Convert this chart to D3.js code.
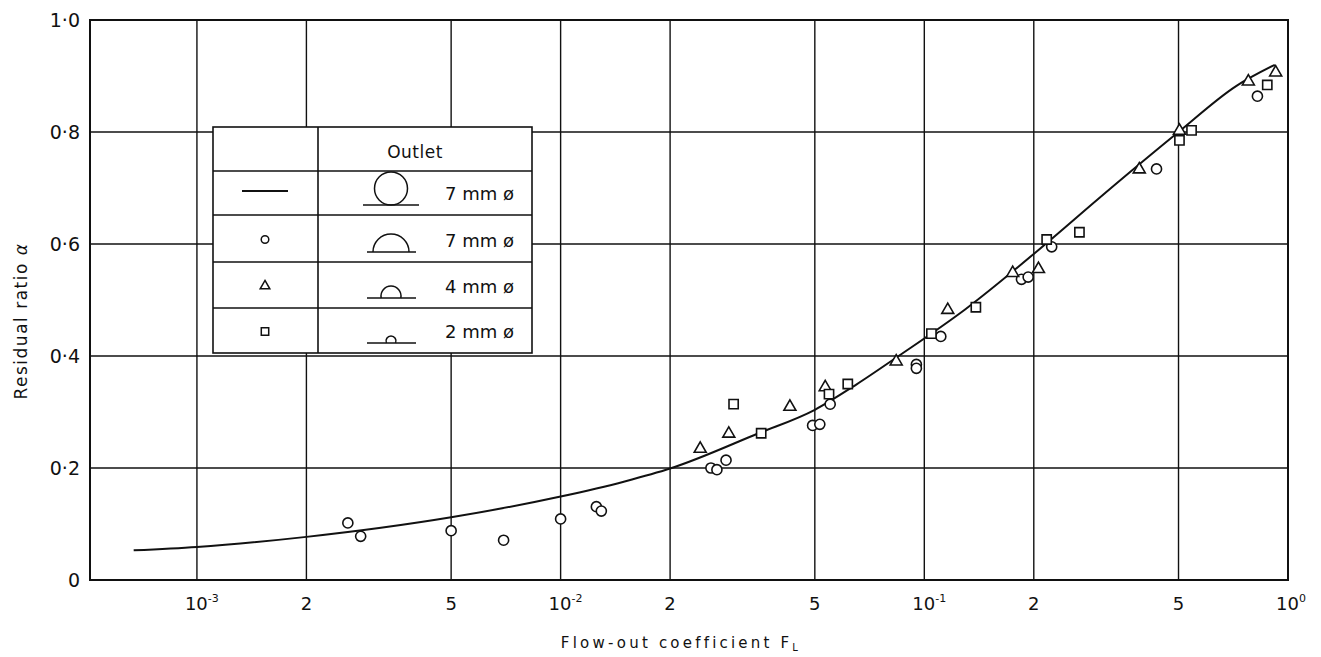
<!DOCTYPE html>
<html>
<head>
<meta charset="utf-8">
<script src="https://cdn.jsdelivr.net/npm/d3@7"></script>
<style>
  body { margin: 0; background: #fff; }
  svg { display: block; }
  text { font-family: "DejaVu Sans", sans-serif; fill: #111; }
</style>
</head>
<body>
<div id="vis"></div>
<script>
// ---- data ----
const xTicks = [0.001, 0.002, 0.005, 0.01, 0.02, 0.05, 0.1, 0.2, 0.5, 1];
const xTickBase = ["10", "2", "5", "10", "2", "5", "10", "2", "5", "10"];
const xTickExp = ["-3", "", "", "-2", "", "", "-1", "", "", "0"];
const yTicks = [0, 0.2, 0.4, 0.6, 0.8, 1.0];
const yTickLabels = ["0", "0·2", "0·4", "0·6", "0·8", "1·0"];

// fitted curve (7 mm full-circle outlet)
const curveF = [0.00067, 0.001, 0.002, 0.005, 0.01, 0.015, 0.02, 0.035, 0.05, 0.065, 0.085, 0.13, 0.22, 0.3, 0.5, 0.72, 0.92];
const curveA = [0.053, 0.059, 0.077, 0.112, 0.149, 0.176, 0.199, 0.262, 0.304, 0.349, 0.4, 0.484, 0.605, 0.68, 0.8, 0.882, 0.92];

// circles: 7 mm half outlet
const circleF = [0.0026, 0.00282, 0.005, 0.00697, 0.01, 0.01254, 0.01294, 0.0259, 0.0269, 0.0285, 0.0493, 0.0516, 0.0551, 0.0951, 0.0951, 0.111, 0.185, 0.193, 0.224, 0.435, 0.824];
const circleA = [0.102, 0.078, 0.088, 0.071, 0.109, 0.131, 0.123, 0.2, 0.197, 0.214, 0.276, 0.278, 0.314, 0.385, 0.378, 0.435, 0.537, 0.541, 0.595, 0.734, 0.864];

// triangles: 4 mm
const triF = [0.0242, 0.029, 0.0427, 0.0534, 0.0837, 0.116, 0.175, 0.206, 0.39, 0.503, 0.778, 0.925];
const triA = [0.236, 0.263, 0.311, 0.346, 0.392, 0.484, 0.55, 0.557, 0.735, 0.804, 0.892, 0.908];

// squares: 2 mm
const sqF = [0.0299, 0.0356, 0.0547, 0.0616, 0.1046, 0.1386, 0.217, 0.267, 0.503, 0.543, 0.877];
const sqA = [0.314, 0.262, 0.332, 0.35, 0.44, 0.487, 0.608, 0.621, 0.785, 0.803, 0.884];

// legend
const legendHeader = "Outlet";
const legendSymbols = ["line", "circle", "triangle", "square"];
const legendOutletR = [16.5, 18, 10, 5];      // outlet sketch radius
const legendOutletH = [33, 18, 12, 7];        // height above base line
const legendLabels = ["7 mm ø", "7 mm ø", "4 mm ø", "2 mm ø"];

// ---- layout ----
const width = 1321, height = 657;
const pLeft = 90, pRight = 1288, pTop = 20, pBottom = 580;

const svg = d3.select("#vis").append("svg")
  .attr("width", width)
  .attr("height", height);

svg.append("rect").attr("width", width).attr("height", height).attr("fill", "#fff");

const x = d3.scaleLog()
  .domain([Math.pow(10, -3.294), 1])
  .range([pLeft, pRight]);

const y = d3.scaleLinear()
  .domain([0, 1])
  .range([pBottom, pTop]);

// grid
svg.append("g")
  .selectAll("line")
  .data(xTicks.slice(0, -1))
  .join("line")
    .attr("x1", d => x(d)).attr("x2", d => x(d))
    .attr("y1", pTop).attr("y2", pBottom)
    .attr("stroke", "#111").attr("stroke-width", 1.4);

svg.append("g")
  .selectAll("line")
  .data(yTicks.slice(1, -1))
  .join("line")
    .attr("x1", pLeft).attr("x2", pRight)
    .attr("y1", d => y(d)).attr("y2", d => y(d))
    .attr("stroke", "#111").attr("stroke-width", 1.4);

// frame
svg.append("rect")
  .attr("x", pLeft).attr("y", pTop)
  .attr("width", pRight - pLeft).attr("height", pBottom - pTop)
  .attr("fill", "none").attr("stroke", "#111").attr("stroke-width", 2);

// y tick labels
svg.append("g")
  .selectAll("text")
  .data(yTicks)
  .join("text")
    .attr("x", 80)
    .attr("y", d => y(d) + 7)
    .attr("text-anchor", "end")
    .style("font-size", "19px")
    .text((d, i) => yTickLabels[i]);

// x tick labels
const xl = svg.append("g")
  .selectAll("text")
  .data(xTicks)
  .join("text")
    .attr("y", 610)
    .style("font-size", "18px")
    .attr("x", (d, i) => xTickExp[i] ? x(d) - 12 : x(d))
    .attr("text-anchor", (d, i) => xTickExp[i] ? "start" : "middle");

xl.append("tspan").text((d, i) => xTickBase[i]);
xl.filter((d, i) => xTickExp[i])
  .append("tspan")
    .attr("dy", -8)
    .style("font-size", "11px")
    .text(d => xTickExp[xTicks.indexOf(d)]);

// axis titles
const xt = svg.append("text")
  .attr("x", 681).attr("y", 648)
  .attr("text-anchor", "middle")
  .style("font-size", "15px")
  .style("letter-spacing", "3.2px");
xt.append("tspan").text("Flow-out coefficient  F");
xt.append("tspan").attr("dy", 3).style("font-size", "10px").text("L");

const yt = svg.append("text")
  .attr("transform", "translate(27,321) rotate(-90)")
  .attr("text-anchor", "middle")
  .style("font-size", "17px")
  .style("letter-spacing", "1.5px");
yt.append("tspan").text("Residual ratio ");
yt.append("tspan").style("font-style", "italic").text("α");

// fitted curve
const curvePts = curveF.map((f, i) => [x(f), y(curveA[i])]);
svg.append("path")
  .attr("d", d3.line().curve(d3.curveMonotoneX)(curvePts))
  .attr("fill", "none")
  .attr("stroke", "#111")
  .attr("stroke-width", 2);

// markers
const symCircle = d3.symbol().type(d3.symbolCircle).size(80);
const symTri = d3.symbol().type(d3.symbolTriangle).size(62);
const symSq = d3.symbol().type(d3.symbolSquare).size(85);

function drawMarkers(fs, as, sym, dy) {
  svg.append("g")
    .selectAll("path")
    .data(fs.map((f, i) => [f, as[i]]))
    .join("path")
      .attr("transform", d => `translate(${x(d[0])},${y(d[1]) + dy})`)
      .attr("d", sym())
      .attr("fill", "#fff")
      .attr("stroke", "#111")
      .attr("stroke-width", 1.6);
}
drawMarkers(circleF, circleA, symCircle, 0);
drawMarkers(triF, triA, symTri, 1);
drawMarkers(sqF, sqA, symSq, 0);

// legend table
const lgX0 = 213, lgX1 = 318, lgX2 = 532;
const rowY = [127, 171, 215, 262, 308, 353];
const lg = svg.append("g");

lg.append("rect")
  .attr("x", lgX0).attr("y", rowY[0])
  .attr("width", lgX2 - lgX0).attr("height", rowY[5] - rowY[0])
  .attr("fill", "#fff").attr("stroke", "#111").attr("stroke-width", 1.6);

lg.selectAll("line.row")
  .data(rowY.slice(1, -1))
  .join("line")
    .attr("class", "row")
    .attr("x1", lgX0).attr("x2", lgX2)
    .attr("y1", d => d).attr("y2", d => d)
    .attr("stroke", "#111").attr("stroke-width", 1.4);

lg.append("line")
  .attr("x1", lgX1).attr("x2", lgX1)
  .attr("y1", rowY[0]).attr("y2", rowY[5])
  .attr("stroke", "#111").attr("stroke-width", 1.6);

lg.append("text")
  .attr("x", 415).attr("y", 158)
  .attr("text-anchor", "middle")
  .style("font-size", "17px")
  .style("letter-spacing", "0.5px")
  .text(legendHeader);

const lgSym = {
  circle: d3.symbol().type(d3.symbolCircle).size(45),
  triangle: d3.symbol().type(d3.symbolTriangle).size(40),
  square: d3.symbol().type(d3.symbolSquare).size(55)
};
legendSymbols.forEach((s, i) => {
  const cy = (rowY[i + 1] + rowY[i + 2]) / 2;
  if (s === "line") {
    lg.append("line")
      .attr("x1", 242).attr("x2", 288)
      .attr("y1", cy - 2).attr("y2", cy - 2)
      .attr("stroke", "#111").attr("stroke-width", 2);
  } else {
    lg.append("path")
      .attr("transform", `translate(265,${cy + 1})`)
      .attr("d", lgSym[s]())
      .attr("fill", "#fff").attr("stroke", "#111").attr("stroke-width", 1.5);
  }

  // outlet sketch: circular arc sitting on a base line
  const r = legendOutletR[i];
  const h = legendOutletH[i];
  const base = rowY[i + 2] - 10;
  const cx = 391;
  lg.append("line")
    .attr("x1", i === 0 ? 363 : 367).attr("x2", i === 0 ? 419 : 416)
    .attr("y1", base).attr("y2", base)
    .attr("stroke", "#111").attr("stroke-width", 1.5);
  if (h >= 2 * r) {
    lg.append("circle")
      .attr("cx", cx).attr("cy", base - r).attr("r", r)
      .attr("fill", "none").attr("stroke", "#111").attr("stroke-width", 1.5);
  } else {
    const dx = Math.sqrt(Math.max(0, r * r - (h - r) * (h - r)));
    const large = h > r ? 1 : 0;
    lg.append("path")
      .attr("d", `M${cx - dx},${base} A${r},${r} 0 ${large} 1 ${cx + dx},${base}`)
      .attr("fill", "none").attr("stroke", "#111").attr("stroke-width", 1.5);
  }

  lg.append("text")
    .attr("x", 514).attr("y", base - 5)
    .attr("text-anchor", "end")
    .style("font-size", "18px")
    .text(legendLabels[i]);
});
</script>
</body>
</html>
